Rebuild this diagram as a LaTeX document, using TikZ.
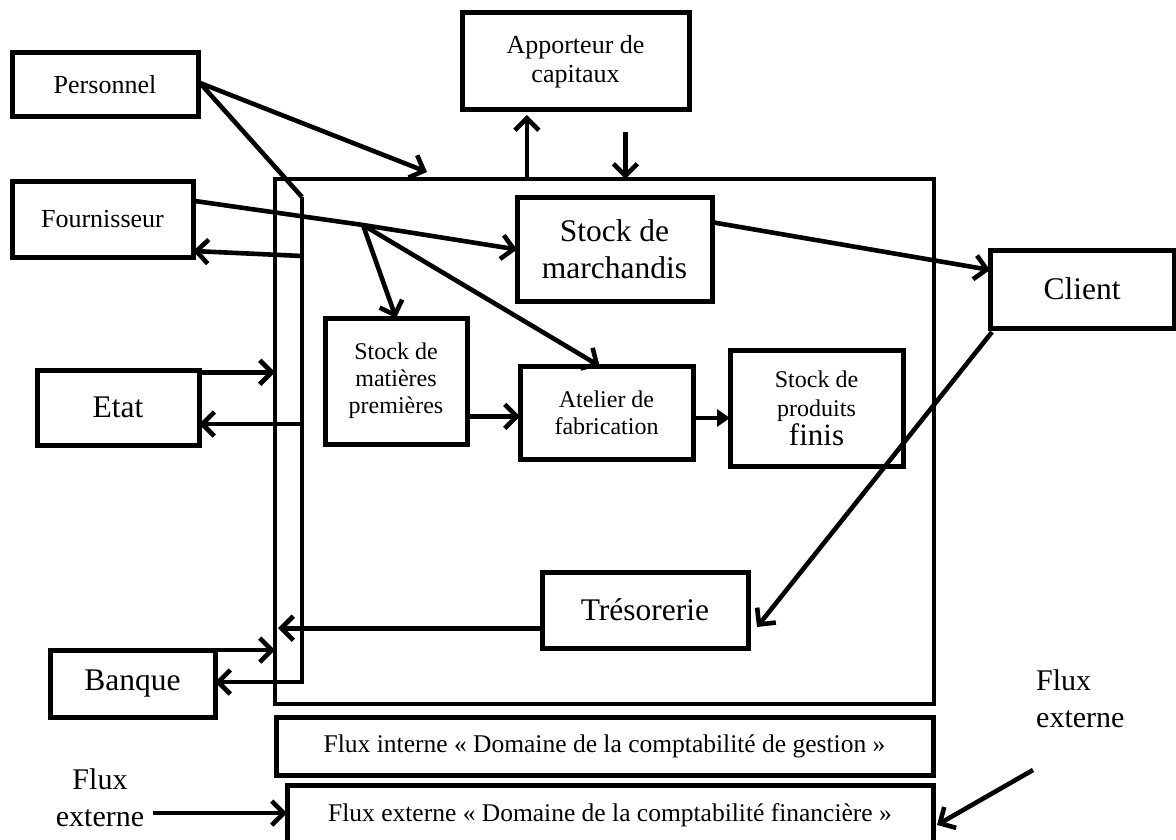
\documentclass[tikz,border=0pt]{standalone}
\usepackage{fontspec}
\setmainfont{Liberation Serif}
\usetikzlibrary{arrows.meta,calc}
\newcommand\fza{\fontsize{26}{29}\selectfont}
\newcommand\fzb{\fontsize{31.5}{37}\selectfont}
\newcommand\fzc{\fontsize{24}{27}\selectfont}
\newcommand\fzd{\fontsize{30}{37}\selectfont}
\newcommand\fze{\fontsize{25.5}{29}\selectfont}
\tikzset{
  box/.style={draw, line width=5pt, inner sep=0pt, outer sep=0pt, align=center, font=\fza},
  ln/.style={line width=4.6pt},
  arr/.style={line width=4.6pt, -{Straight Barb[length=12pt,width=24pt]}},
  tri/.style={line width=4.6pt, -{Triangle[length=13pt,width=17pt]}},
  lbl/.style={inner sep=0pt, font=\fzd}
}
\begin{document}
\begin{tikzpicture}[x=1pt,y=-1pt]
\path[fill=white,use as bounding box] (0,0) rectangle (1176,840);

% main enterprise box
\node[box, line width=4.5pt, minimum width=659pt, minimum height=525pt] (main) at (604.5,441.5) {};

% external boxes
\node[box, minimum width=186pt, minimum height=64pt] (pers) at (105,85) {Personnel};
\node[box, minimum width=181pt, minimum height=75pt] (four) at (102.5,219.5) {Fournisseur};
\node[box, minimum width=227pt, minimum height=97pt] (appo) at (575.5,61.5) {Apporteur de\\capitaux};
\node[box, minimum width=162pt, minimum height=75pt, font=\fzb] (etat) at (118,407.5) {Etat};
\node[box, minimum width=165pt, minimum height=67pt, font=\fzb] (banq) at (132.5,683.5) {Banque};
\node[box, minimum width=184pt, minimum height=78pt, font=\fzb] (cl) at (1082,289) {Client};

% internal boxes
\node[box, minimum width=195pt, minimum height=103pt, font=\fzb] (sm) at (614.5,249.5) {Stock de\\marchandis};
\node[box, minimum width=142pt, minimum height=126pt, font=\fzc] (mat) at (396,381) {Stock de\\matières\\premières};
\node[box, minimum width=173pt, minimum height=93pt, font=\fzc] (at) at (606.5,412.5) {Atelier de\\fabrication};
\node[box, minimum width=173pt, minimum height=116pt, font={\fontsize{24}{29}\selectfont}] (pf) at (816.5,408) {Stock de\\produits\\\fontsize{31}{33}\selectfont finis};
\node[box, minimum width=206pt, minimum height=76pt, font=\fzb] (tres) at (645,610) {Trésorerie};

% bottom boxes
\node[box, minimum width=657pt, minimum height=58pt, font=\fze] (fi) at (604.5,746) {Flux interne « Domaine de la comptabilité de gestion »};
\node[box, minimum width=646pt, minimum height=60pt, font=\fze] (fe) at (610,815) {Flux externe « Domaine de la comptabilité financière »};

% labels
\node[lbl, align=center] (fl) at (100,798) {Flux\\externe};
\node[lbl, align=left, anchor=north west] (fr) at (1036,669) {Flux\\externe};

% coordinates
\coordinate (busT) at (302,197);
\coordinate (busB) at (302,682);
\coordinate (b1) at (302,256);
\coordinate (b2) at (302,424);
\coordinate (j1) at (363,225);
\coordinate (pm) at (427,172);
\coordinate (p0) at ([xshift=2pt,yshift=2pt]pers.east);
\coordinate (fA) at ($(four.north east)!0.25!(four.south east)$);
\coordinate (e1) at ($(etat.north east)!0.03!(etat.south east)$);
\coordinate (t1) at ($(tres.north west)!0.74!(tres.south west)$);
\coordinate (m1) at ($(mat.north east)!0.78!(mat.south east)$);
\coordinate (a1) at ([yshift=-5.5pt]at.east);
\coordinate (u1) at ($(appo.south west)!0.286!(appo.south east)$);
\coordinate (d1) at ($(appo.south west)!0.72!(appo.south east)$);
\coordinate (fl1) at (153,813);
\coordinate (fr1) at (1033,770);

% bus line with Personnel and Banque
\draw[ln] (p0) -- (busT);
\draw[arr] (busT) -- (busB) -- (busB -| banq.east);
\draw[arr] (p0) -- (pm);

% Fournisseur
\draw[arr] (fA) -- (j1) -- (sm.west);
\draw[arr] (j1) -- (mat.north);
\draw[arr] (j1) -- ($(at.north west)!0.46!(at.north east)$);
\draw[arr] (b1) -- ($(four.north east)!0.92!(four.south east)$);

% Etat
\draw[arr] (e1) -- (e1 -| main.west);
\draw[arr] (b2) -- (b2 -| etat.east);

% Banque
\draw[arr] (banq.north east) -- (banq.north east -| main.west);

% Tresorerie
\draw[arr, shorten >=3pt] (t1) -- (t1 -| main.west);

% Client
\draw[arr] ($(sm.north east)!0.235!(sm.south east)$) -- ($(cl.north west)!0.256!(cl.south west)$);
\draw[arr] ([xshift=2pt,yshift=-4pt]cl.south west) -- ([xshift=9pt,yshift=-17pt]tres.east);

% production chain
\draw[arr] (m1) -- (m1 -| at.west);
\draw[tri] (a1) -- (a1 -| pf.west);

% Apporteur
\draw[arr, shorten >=5pt] (u1 |- main.north) -- (u1);
\draw[arr] ([yshift=-22pt]d1) -- (d1 |- main.north);

% flux externe arrows
\draw[arr] (fl1) -- (fl1 -| fe.west);
\draw[arr] (fr1) -- ([xshift=4pt,yshift=-10pt]fe.east);
\end{tikzpicture}
\end{document}
